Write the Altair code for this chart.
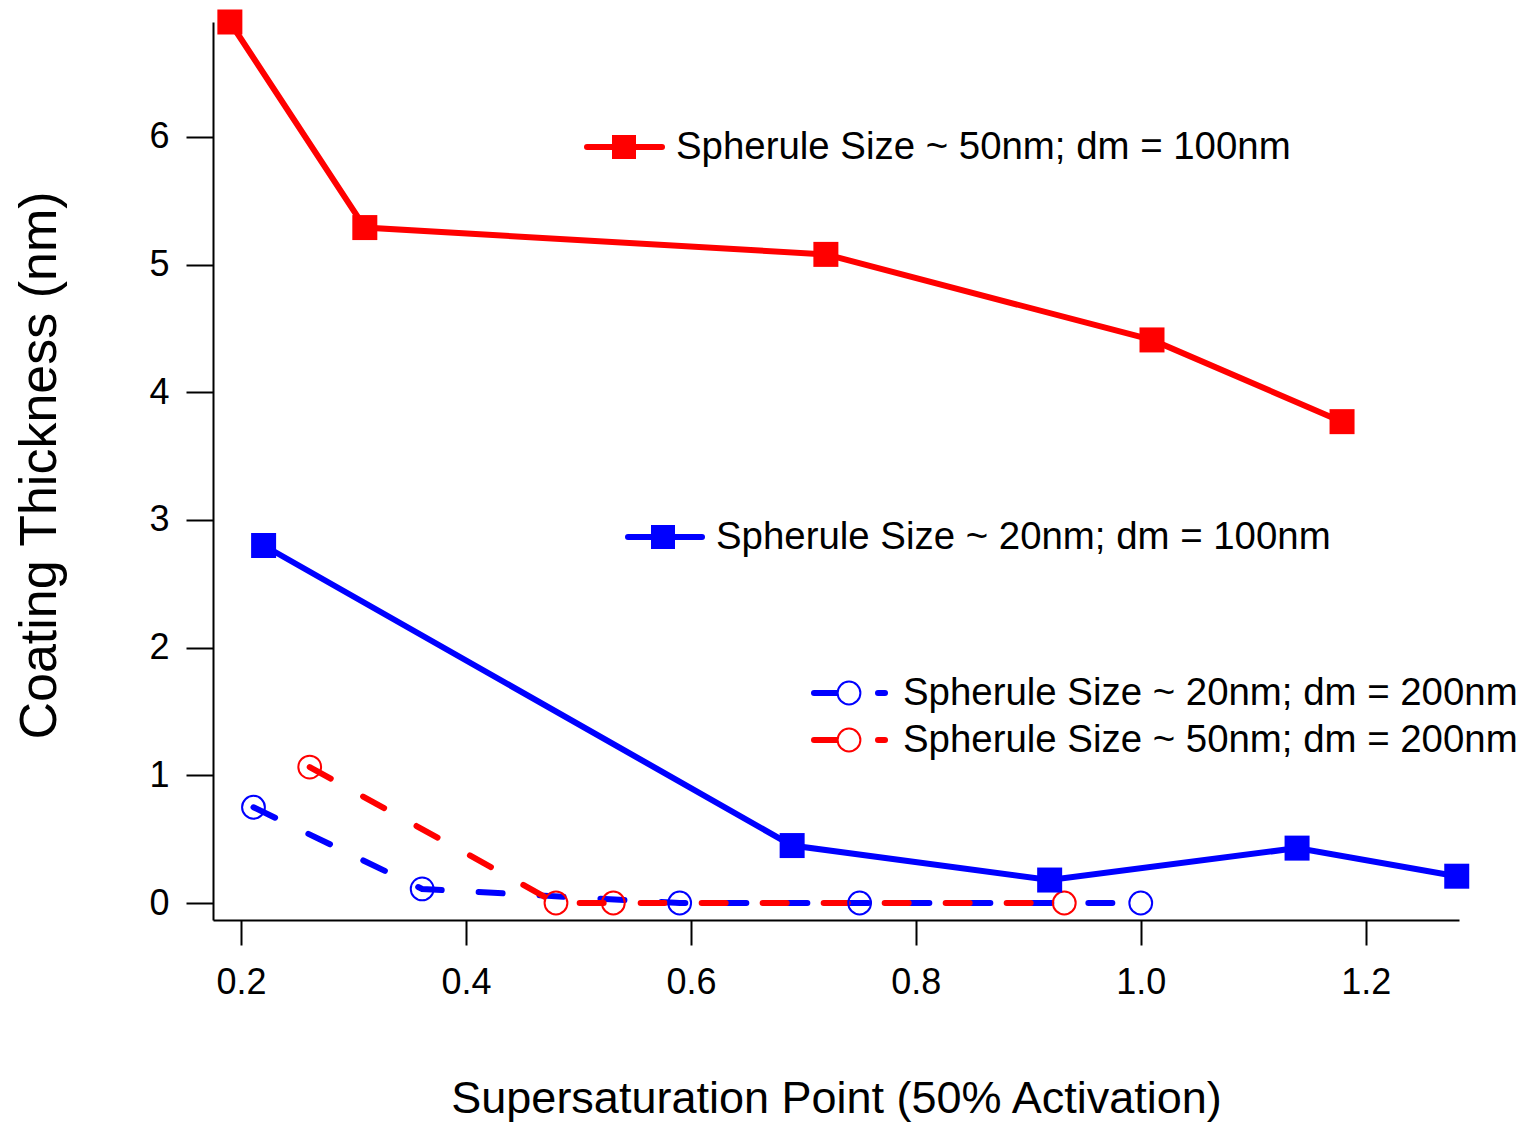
import altair as alt
import pandas as pd

# ---- data ----
s50_d100_x = [0.19, 0.31, 0.72, 1.01, 1.179]
s50_d100_y = [6.90, 5.29, 5.08, 4.41, 3.77]

s20_d100_x = [0.22, 0.69, 0.919, 1.139, 1.281]
s20_d100_y = [2.80, 0.45, 0.18, 0.43, 0.21]

s20_d200_x = [0.211, 0.361, 0.590, 0.750, 1.000]
s20_d200_y = [0.75, 0.11, 0.0, 0.0, 0.0]

s50_d200_x = [0.261, 0.480, 0.531, 0.932]
s50_d200_y = [1.065, 0.0, 0.0, 0.0]

x_ticks = [0.2, 0.4, 0.6, 0.8, 1.0, 1.2]
y_ticks = [0, 1, 2, 3, 4, 5, 6]

labels = [
    "Spherule Size ~ 50nm; dm = 100nm",
    "Spherule Size ~ 20nm; dm = 100nm",
    "Spherule Size ~ 20nm; dm = 200nm",
    "Spherule Size ~ 50nm; dm = 200nm",
]

RED = "#FF0000"
BLUE = "#0000FF"
FONT = "Liberation Sans"

W, H = 1246, 898

xscale = alt.Scale(domain=[0.175, 1.283], nice=False, zero=False)
yscale = alt.Scale(domain=[-0.133, 6.9], nice=False, zero=False)

xaxis = alt.Axis(
    values=x_ticks, format=".1f", title="Supersaturation Point (50% Activation)",
    grid=False, domainColor="black", domainWidth=2, tickColor="black", tickWidth=2,
    tickSize=25, labelFont=FONT, labelFontSize=36, labelColor="black", labelPadding=20,
    titleFont=FONT, titleFontSize=45, titleFontWeight="normal", titleColor="black",
    titleBaseline="alphabetic", titleY=192, labelFlush=False,
)
yaxis = alt.Axis(
    values=y_ticks, format="d", title="Coating Thickness (nm)",
    grid=False, domainColor="black", domainWidth=2, tickColor="black", tickWidth=2,
    tickSize=27, labelFont=FONT, labelFontSize=36, labelColor="black", labelPadding=17,
    titleFont=FONT, titleFontSize=52, titleFontWeight="normal", titleColor="black",
    titleBaseline="alphabetic", titleAngle=270, titleX=-158, titleY=443, labelFlush=False,
)


def df(xs, ys):
    return pd.DataFrame({"x": xs, "y": ys})


def enc(ch, first=False):
    if first:
        return ch.encode(x=alt.X("x:Q", scale=xscale, axis=xaxis),
                         y=alt.Y("y:Q", scale=yscale, axis=yaxis))
    return ch.encode(x=alt.X("x:Q", scale=xscale), y=alt.Y("y:Q", scale=yscale))


dash = [24, 37]

b_dash_line = enc(alt.Chart(df(s20_d200_x, s20_d200_y)).mark_line(
    color=BLUE, strokeWidth=6, strokeDash=dash, strokeCap="round"), first=True)
b_dash_pts = enc(alt.Chart(df(s20_d200_x, s20_d200_y)).mark_point(
    shape="circle", filled=False, size=520, strokeWidth=2, color=BLUE, opacity=1))
r_dash_line = enc(alt.Chart(df(s50_d200_x, s50_d200_y)).mark_line(
    color=RED, strokeWidth=6, strokeDash=dash, strokeCap="round"))
r_dash_pts = enc(alt.Chart(df(s50_d200_x, s50_d200_y)).mark_point(
    shape="circle", filled=False, size=520, strokeWidth=2, color=RED, opacity=1))

b_line = enc(alt.Chart(df(s20_d100_x, s20_d100_y)).mark_line(color=BLUE, strokeWidth=6))
b_pts = enc(alt.Chart(df(s20_d100_x, s20_d100_y)).mark_point(
    shape="square", filled=True, size=625, color=BLUE, opacity=1))
r_line = enc(alt.Chart(df(s50_d100_x, s50_d100_y)).mark_line(color=RED, strokeWidth=6))
r_pts = enc(alt.Chart(df(s50_d100_x, s50_d100_y)).mark_point(
    shape="square", filled=True, size=625, color=RED, opacity=1))

# ---- manual legend entries (annotation, pixel positions in the plot area) ----
legend_layers = []


def leg_text(x, y, t):
    return alt.Chart(pd.DataFrame({"a": [0]})).mark_text(
        font=FONT, fontSize=38.4, color="black", align="left", baseline="middle"
    ).encode(x=alt.value(x), y=alt.value(y), text=alt.value(t))


def leg_rule(x1, x2, y, color, cap="butt"):
    return alt.Chart(pd.DataFrame({"a": [0]})).mark_rule(
        color=color, strokeWidth=6, strokeCap=cap
    ).encode(x=alt.value(x1), x2=alt.value(x2), y=alt.value(y))


def leg_pt(x, y, color, shape):
    if shape == "square":
        m = alt.Chart(pd.DataFrame({"a": [0]})).mark_point(
            shape="square", filled=True, size=576, color=color, opacity=1)
    else:
        m = alt.Chart(pd.DataFrame({"a": [0]})).mark_point(
            shape="circle", filled=True, fill="white", size=520, strokeWidth=2,
            stroke=color, opacity=1)
    return m.encode(x=alt.value(x), y=alt.value(y))


# entry 1 (red squares)
legend_layers += [leg_rule(374, 449, 125, RED, "round"), leg_pt(411, 125, RED, "square"),
                  leg_text(463, 125, labels[0])]
# entry 2 (blue squares)
legend_layers += [leg_rule(415, 489, 515, BLUE, "round"), leg_pt(450, 515, BLUE, "square"),
                  leg_text(503, 515, labels[1])]
# entry 3 (blue circles dashed)
legend_layers += [leg_rule(601, 628, 671, BLUE, "round"), leg_pt(636, 671, BLUE, "circle"),
                  leg_rule(665, 672, 671, BLUE, "round"), leg_text(690, 671, labels[2])]
# entry 4 (red circles dashed)
legend_layers += [leg_rule(601, 628, 718, RED, "round"), leg_pt(636, 718, RED, "circle"),
                  leg_rule(665, 672, 718, RED, "round"), leg_text(690, 718, labels[3])]

chart = alt.layer(
    b_dash_line, r_dash_line, b_dash_pts, r_dash_pts,
    b_line, b_pts, r_line, r_pts, *legend_layers
).properties(
    width=W, height=H,
    background="white",
    autosize=alt.AutoSizeParams(type="none"),
    padding={"left": 205, "top": 14, "right": 62, "bottom": 205},
).configure_view(stroke=None, strokeWidth=0)

chart.save("out.html", embed_options={"renderer": "svg", "actions": False})
